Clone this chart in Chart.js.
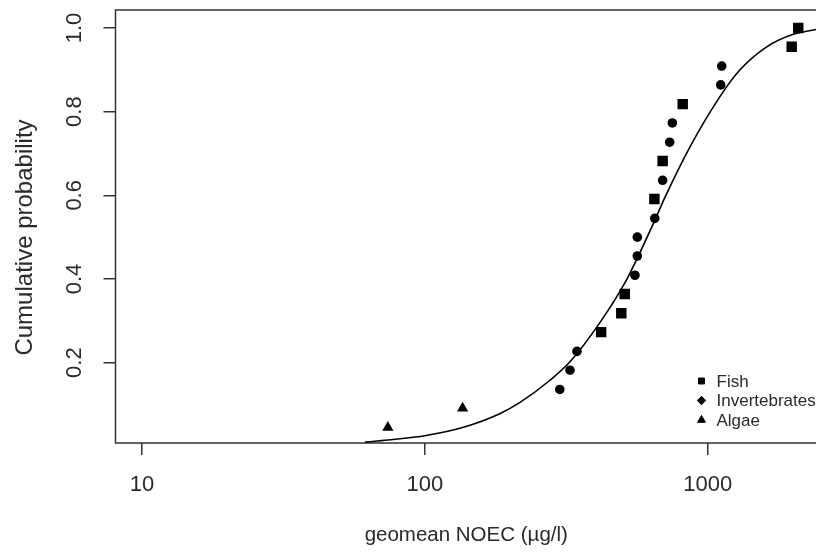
<!DOCTYPE html>
<html>
<head>
<meta charset="utf-8">
<script src="https://cdn.jsdelivr.net/npm/chart.js@4/dist/chart.umd.min.js"></script>
<style>
  html, body { margin: 0; padding: 0; background: #fff; overflow: hidden; width: 816px; height: 552px; }
  #wrap { position: relative; width: 830px; height: 552px; }
</style>
</head>
<body>
<div id="wrap"><canvas id="ssd" width="830" height="552"></canvas></div>
<script>
// Species sensitivity: geometric-mean NOEC per species (µg/l) and its cumulative rank
const fishNoec  = [420, 495, 509, 648, 693, 816, 1982, 2090];
const fishProb  = [0.273, 0.318, 0.364, 0.591, 0.682, 0.818, 0.955, 1.0];
const invNoec   = [300, 326, 345, 553, 564, 564, 650, 693, 734, 750, 1112, 1121];
const invProb   = [0.136, 0.182, 0.227, 0.409, 0.455, 0.5, 0.545, 0.636, 0.727, 0.773, 0.864, 0.909];
const algaeNoec = [74, 136];
const algaeProb = [0.045, 0.091];

// Fitted distribution curve
const curveNoec = [61.4, 74, 101, 136, 184, 217, 277, 326, 420, 509, 564, 650, 706, 866, 1105, 1301, 1617, 2007, 2435];
const curveProb = [0.010, 0.015, 0.026, 0.045, 0.078, 0.105, 0.158, 0.202, 0.300, 0.390, 0.450, 0.540, 0.595, 0.716, 0.836, 0.900, 0.955, 0.985, 0.997];

const xTicks = [10, 100, 1000];
const yTicks = [0.2, 0.4, 0.6, 0.8, 1.0];

const groupNames = ['Fish', 'Invertebrates', 'Algae'];
const yTitle = 'Cumulative probability';

const pairs = (xs, ys) => xs.map((x, i) => ({ x: x, y: ys[i] }));

const INK = '#2a2a2a';
const FONT = "'Liberation Sans', Arial, sans-serif";

// Frame around the plotting region
const framePlugin = {
  id: 'frame',
  beforeDatasetsDraw(chart) {
    const { ctx, chartArea: a } = chart;
    ctx.save();
    ctx.strokeStyle = '#333';
    ctx.lineWidth = 1.5;
    ctx.strokeRect(a.left, a.top, a.right - a.left, a.bottom - a.top);
    ctx.restore();
  }
};

// Vertical axis title, set slightly below the middle of the plot
const yTitlePlugin = {
  id: 'yTitle',
  afterDraw(chart) {
    const { ctx, chartArea: a } = chart;
    ctx.save();
    ctx.translate(a.left - 90, (a.top + a.bottom) / 2 + 11);
    ctx.rotate(-Math.PI / 2);
    ctx.font = '24px ' + FONT;
    ctx.fillStyle = INK;
    ctx.textAlign = 'center';
    ctx.textBaseline = 'middle';
    ctx.fillText(yTitle, 0, 0);
    ctx.restore();
  }
};

// Symbol key in the lower right corner of the plot
const keyPlugin = {
  id: 'key',
  afterDraw(chart) {
    const { ctx, chartArea: a } = chart;
    const styles = [
      { pointStyle: 'rect', radius: 4.2 },
      { pointStyle: 'rectRot', radius: 4.2 },
      { pointStyle: 'triangle', radius: 4.6 }
    ];
    const x0 = a.left + 586;
    const y0 = a.bottom - 62;
    const step = 19.5;
    ctx.save();
    ctx.font = '17px ' + FONT;
    ctx.textBaseline = 'middle';
    ctx.textAlign = 'left';
    groupNames.forEach((name, i) => {
      const y = y0 + i * step;
      ctx.fillStyle = '#000';
      ctx.strokeStyle = '#000';
      ctx.lineWidth = 1;
      Chart.helpers.drawPoint(ctx, { pointStyle: styles[i].pointStyle, radius: styles[i].radius, rotation: 0, borderWidth: 1 }, x0, y);
      ctx.fillStyle = INK;
      ctx.fillText(name, x0 + 15, y + 1);
    });
    ctx.restore();
  }
};

new Chart(document.getElementById('ssd'), {
  type: 'scatter',
  data: {
    datasets: [
      {
        label: groupNames[0],
        data: pairs(fishNoec, fishProb),
        pointStyle: 'rect',
        pointRadius: 7.4,
        backgroundColor: '#000',
        borderColor: '#000',
        borderWidth: 0,
        order: 0
      },
      {
        label: groupNames[1],
        data: pairs(invNoec, invProb),
        pointStyle: 'circle',
        pointRadius: 4.8,
        backgroundColor: '#000',
        borderColor: '#000',
        borderWidth: 0,
        order: 0
      },
      {
        label: groupNames[2],
        data: pairs(algaeNoec, algaeProb),
        pointStyle: 'triangle',
        pointRadius: 6.5,
        backgroundColor: '#000',
        borderColor: '#000',
        borderWidth: 0,
        order: 0
      },
      {
        type: 'line',
        label: 'fit',
        data: pairs(curveNoec, curveProb),
        borderColor: '#000',
        borderWidth: 1.6,
        pointRadius: 0,
        fill: false,
        cubicInterpolationMode: 'monotone',
        order: 1
      }
    ]
  },
  options: {
    responsive: false,
    animation: false,
    devicePixelRatio: 1,
    layout: { padding: { left: 0, top: 10, right: 13, bottom: 0 } },
    plugins: {
      legend: { display: false },
      tooltip: { enabled: false }
    },
    scales: {
      x: {
        type: 'logarithmic',
        position: 'bottom',
        min: 8.06,
        max: 2435,
        afterBuildTicks: s => { s.ticks = xTicks.map(v => ({ value: v })); },
        afterFit: s => { s.height = 109; s.paddingLeft = 0; s.paddingRight = 0; },
        border: { display: false },
        grid: { drawOnChartArea: false, drawTicks: true, tickLength: 12, color: '#333', lineWidth: 1.5 },
        ticks: {
          autoSkip: false,
          maxRotation: 0,
          padding: 17,
          color: INK,
          font: { family: FONT, size: 22 },
          callback: v => String(v)
        },
        title: {
          display: true,
          text: 'geomean NOEC (µg/l)',
          color: INK,
          font: { family: FONT, size: 20.5 },
          padding: { top: 0, bottom: 4 }
        }
      },
      y: {
        type: 'linear',
        min: 0.008,
        max: 1.043,
        afterBuildTicks: s => { s.ticks = yTicks.map(v => ({ value: v })); },
        afterFit: s => { s.width = 115.5; s.paddingTop = 0; s.paddingBottom = 0; },
        border: { display: false },
        grid: { drawOnChartArea: false, drawTicks: true, tickLength: 12, color: '#333', lineWidth: 1.5 },
        ticks: {
          minRotation: 90,
          maxRotation: 90,
          crossAlign: 'center',
          padding: 13,
          color: INK,
          font: { family: FONT, size: 22 },
          callback: v => v.toFixed(1)
        }
      }
    }
  },
  plugins: [framePlugin, yTitlePlugin, keyPlugin]
});
</script>
</body>
</html>
